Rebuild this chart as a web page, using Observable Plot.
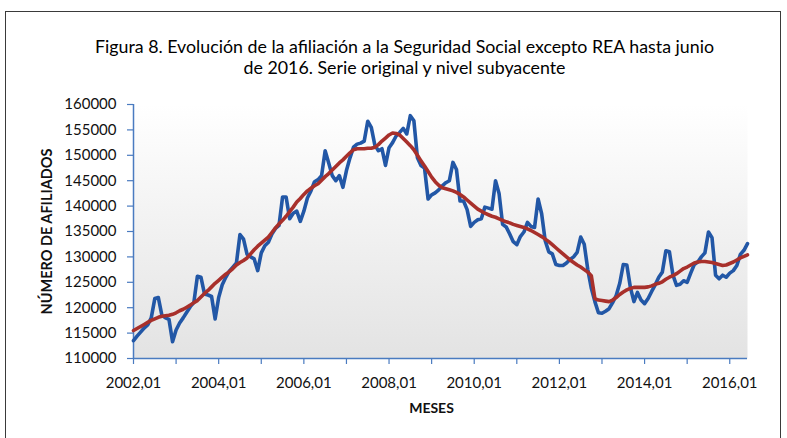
<!DOCTYPE html>
<html>
<head>
<meta charset="utf-8">
<script src="https://cdn.jsdelivr.net/npm/d3@7"></script>
<script src="https://cdn.jsdelivr.net/npm/@observablehq/plot@0.6"></script>
<style>
  html, body { margin: 0; padding: 0; background: #fff; }
  #wrap { position: relative; width: 787px; height: 438px; overflow: hidden; font-family: Lato, "Open Sans", sans-serif; }
  #border { position: absolute; left: 5px; top: 11px; width: 776px; height: 460px; border: 1.5px solid #3a3a3a; box-sizing: border-box; }
  #title { position: relative; height: 90px; box-sizing: border-box; padding-top: 36px; text-align: center; font-size: 17.8px; line-height: 21px; color: #000; padding-left: 22px; }
  #chart { position: relative; }
</style>
</head>
<body>
<div id="wrap">
  <div id="border"></div>
  <div id="title">Figura 8. Evolución de la afiliación a la Seguridad Social excepto REA hasta junio<br>de 2016. Serie original y nivel subyacente</div>
  <div id="chart"></div>
</div>
<script>
const startYear = 2002;
const xTickLabels = ["2002,01","2004,01","2006,01","2008,01","2010,01","2012,01","2014,01","2016,01"];
const yTicks = [110000,115000,120000,125000,130000,135000,140000,145000,150000,155000,160000];
const yTitle = "NÚMERO DE AFILIADOS";
const xTitle = "MESES";

// Serie original (mensual, 2002,01 - 2016,06)
const serieOriginal = [
113500,114400,115200,116000,116600,118000,121800,122000,118500,118000,117700,113300,
115600,117000,118000,119100,120200,121000,126200,126000,122700,122500,122200,117800,
122000,124500,126000,127200,128000,128800,134400,133500,130500,130000,129600,127300,
130800,132200,132900,134500,135600,136200,141800,141800,137500,138600,139000,137000,
139000,141600,143000,144800,145200,146000,150900,148500,146000,145000,146000,143700,
147000,149500,151600,152200,152400,152800,156700,155500,152000,150900,151300,148000,
151500,152500,153800,154500,155300,154200,157800,156800,149500,148000,147500,141400,
142200,142600,143200,144000,144600,145000,148600,147200,141000,141000,139300,136000,
136800,137300,137500,139800,139600,139400,145000,142500,136400,135900,134500,133000,
132400,134000,134900,136800,136000,135800,141400,138500,133200,131000,130600,128500,
128300,128300,128800,129500,130000,130900,133900,132500,127500,123800,121200,119000,
118900,119300,119800,121000,122400,124800,128500,128400,124000,121200,123000,121500,
120800,121800,123200,124500,126000,127000,131200,131000,126400,124400,124600,125300,
125000,126800,128500,129000,130000,130800,134900,133800,126400,125700,126400,126000,
126800,127300,128300,130500,131300,132600
];

// Nivel subyacente (tendencia)
const nivelSubyacente = [
115500,115900,116300,116700,117100,117500,117800,118100,118300,118400,118500,118700,
119000,119400,119700,120100,120500,121000,121400,122100,122800,123400,124100,124800,
125400,126000,126600,127100,127700,128400,128900,129300,129800,130600,131400,132100,
132700,133300,133900,134800,135700,136500,137200,138000,138900,139800,140800,141500,
142300,143000,143500,144000,144400,145100,145800,146400,147100,147800,148500,149100,
149800,150500,151100,151300,151300,151300,151400,151400,151600,152100,152800,153400,
154000,154400,154300,154000,153300,152600,151900,151100,150000,148900,147900,146800,
145700,144800,144100,143600,143400,143200,143000,142700,142300,141800,141200,140600,
140000,139400,139000,138600,138300,138000,137800,137500,137200,136900,136700,136400,
136200,136000,135800,135500,135200,134800,134400,134000,133500,133000,132400,131800,
131200,130600,130000,129400,128900,128400,128000,127500,127000,126300,121800,121500,
121400,121300,121200,121500,122000,122600,123100,123500,123800,124000,124000,124000,
124000,124100,124300,124600,124800,125100,125600,126000,126300,126700,127200,127700,
128000,128400,128800,129000,129100,129100,129000,128900,128700,128500,128300,128400,
128700,129000,129400,129800,130100,130400
];

const blue = "#2257a6";
const red = "#a8302b";
const axisBlue = "#4a7bc0";

const data = serieOriginal.map((v, i) => ({ m: i, original: v, subyacente: nivelSubyacente[i] }));
const nMonths = serieOriginal.length;
const yearTicks = d3.range(0, nMonths, 12);
const labelTicks = xTickLabels.map((_, k) => k * 24);
const labelOf = new Map(labelTicks.map((t, k) => [t, xTickLabels[k]]));

const chart = Plot.plot({
  width: 787,
  height: 348,
  marginLeft: 133,
  marginRight: 40,
  marginTop: 14,
  marginBottom: 80,
  style: { fontFamily: "Lato, 'Open Sans', sans-serif", fontSize: "15px", background: "transparent", color: "#111", overflow: "visible" },
  x: { type: "linear", domain: [0, nMonths - 1] },
  y: { domain: [110000, 160000] },
  marks: [
    Plot.frame({ fill: "url(#plotbg)", stroke: "none" }),
    Plot.axisY({ ticks: yTicks, tickSize: 6, tickFormat: () => "", stroke: axisBlue, strokeWidth: 1.2, label: null }),
    Plot.axisY({ ticks: yTicks, tickSize: 0, tickPadding: 17, tickFormat: d3.format("d"), label: null }),
    Plot.axisX({ ticks: yearTicks, tickSize: 6, tickFormat: () => "", stroke: axisBlue, strokeWidth: 1.2, label: null }),
    Plot.axisX({ ticks: labelTicks, tickSize: 0, tickPadding: 19, tickFormat: t => labelOf.get(t), label: null }),
    Plot.ruleX([0], { stroke: axisBlue, strokeWidth: 1.5 }),
    Plot.ruleY([110000], { stroke: axisBlue, strokeWidth: 1.5 }),
    Plot.line(data, { x: "m", y: "original", stroke: blue, strokeWidth: 3.6, strokeLinejoin: "round" }),
    Plot.line(data, { x: "m", y: "subyacente", stroke: red, strokeWidth: 3.6, strokeLinejoin: "round" }),
    Plot.text([yTitle], { frameAnchor: "left", textAnchor: "middle", dx: -86, rotate: -90, fontWeight: "bold", fontSize: 14.5, fill: "#111" }),
    Plot.text([xTitle], { frameAnchor: "bottom", dx: -9, dy: 54, fontWeight: "bold", fontSize: 14, fill: "#111" })
  ]
});

// gradient background for the plot area
const ns = "http://www.w3.org/2000/svg";
const defs = document.createElementNS(ns, "defs");
const grad = document.createElementNS(ns, "linearGradient");
grad.setAttribute("id", "plotbg");
grad.setAttribute("x1", "0"); grad.setAttribute("y1", "0");
grad.setAttribute("x2", "0"); grad.setAttribute("y2", "1");
[["0%", "#ffffff"], ["100%", "#e3e3e3"]].forEach(([o, c]) => {
  const s = document.createElementNS(ns, "stop");
  s.setAttribute("offset", o); s.setAttribute("stop-color", c);
  grad.appendChild(s);
});
defs.appendChild(grad);
chart.insertBefore(defs, chart.firstChild);

document.getElementById("chart").appendChild(chart);
</script>
</body>
</html>
